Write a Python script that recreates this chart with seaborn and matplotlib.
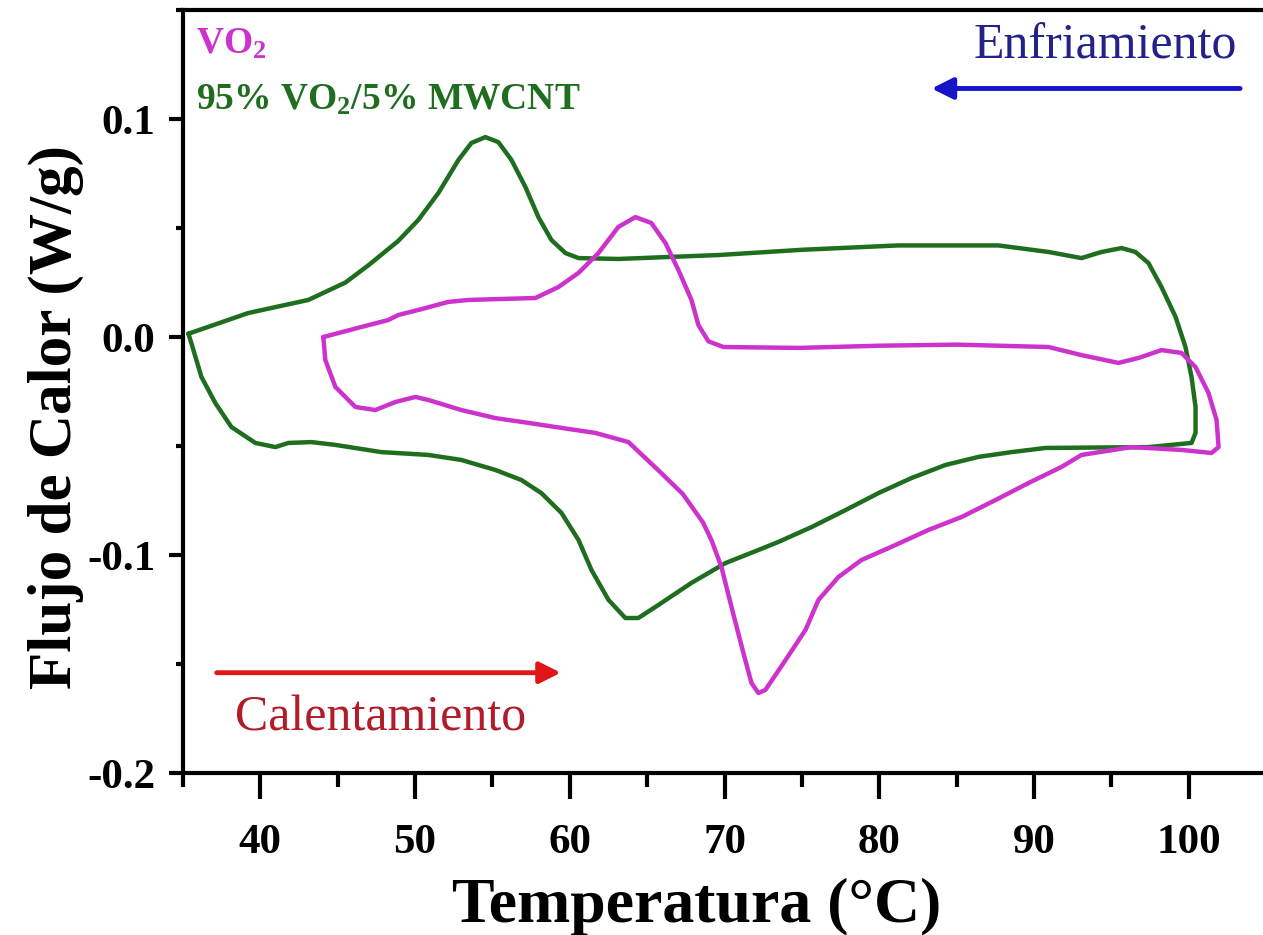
import numpy as np
import pandas as pd
import matplotlib
matplotlib.use("Agg")
import matplotlib.pyplot as plt
import seaborn as sns
from matplotlib.ticker import MultipleLocator

# ---- data ----
vo2_T = [44.07, 46.53, 48.27, 48.92, 50.21, 52.15, 53.45, 57.78, 59.26, 60.56, 61.85, 63.14,
         64.24, 65.27, 66.18, 67.02, 67.86, 68.31, 68.96, 69.93, 74.8, 80.0, 85.0, 90.94,
         93.07, 95.46, 96.76, 98.24, 99.53, 100.44, 101.28, 101.80, 101.93, 101.47, 99.53,
         96.30, 93.07, 91.78, 89.64, 87.51, 85.31, 83.18, 81.05, 78.85, 77.36, 76.07, 75.23,
         73.94, 72.64, 72.19, 71.74, 71.22, 70.45, 69.80, 69.15, 68.6, 67.3, 65.7, 63.79,
         61.65, 59.46, 57.32, 55.19, 52.99, 50.86, 50.02, 48.73, 47.43, 46.14, 44.85, 44.20,
         44.07]
vo2_Q = [0.000, 0.0046, 0.0078, 0.0101, 0.0124, 0.0161, 0.0170, 0.0179, 0.0229, 0.0294, 0.0385,
         0.0505, 0.0550, 0.0523, 0.0431, 0.0307, 0.0170, 0.0055, -0.0020, -0.0046, -0.0050,
         -0.0040, -0.0035, -0.0046, -0.0083, -0.0119, -0.0096, -0.0060, -0.0073, -0.0138,
         -0.0257, -0.0381, -0.0505, -0.0532, -0.0518, -0.0505, -0.0541, -0.0596, -0.0670,
         -0.0748, -0.0826, -0.0885, -0.0954, -0.1023, -0.1101, -0.1206, -0.1344, -0.1482,
         -0.1619, -0.1633, -0.1587, -0.1450, -0.1239, -0.1055, -0.0931, -0.0850, -0.0720,
         -0.0610, -0.0482, -0.0440, -0.0417, -0.0394, -0.0372, -0.0335, -0.0289, -0.0275,
         -0.0298, -0.0335, -0.0321, -0.0229, -0.0106, 0.000]

cnt_T = [35.35, 39.22, 43.10, 45.5, 47.0, 48.9, 50.21, 51.51, 52.80, 53.64, 54.54, 55.38, 56.23,
         57.13, 57.97, 58.81, 59.72, 60.56, 63.14, 69.61, 75.0, 81.2, 87.7, 90.94, 93.07,
         94.36, 95.66, 96.56, 97.40, 98.24, 99.15, 99.79, 100.18, 100.44, 100.44, 100.18,
         97.40, 90.74, 88.55, 86.41, 84.28, 82.08, 79.95, 77.82, 75.62, 73.48, 72.19, 70.06,
         67.86, 65.73, 64.43, 63.59, 62.50, 61.40, 60.56, 59.46, 58.16, 56.87, 55.19, 52.99,
         50.86, 47.82, 44.85, 43.30, 41.81, 40.97, 39.68, 38.13, 37.09, 36.19, 35.54, 35.35]
cnt_Q = [0.0015, 0.0110, 0.0170, 0.0250, 0.0330, 0.0440, 0.0537, 0.0661, 0.0812, 0.0890,
         0.0917, 0.0894, 0.0812, 0.0688, 0.0550, 0.0445, 0.0385, 0.0362, 0.0358, 0.0376,
         0.0400, 0.0420, 0.0420, 0.0390, 0.0362, 0.0390, 0.0408, 0.0390, 0.0339, 0.0229,
         0.0092, -0.0046, -0.0183, -0.0321, -0.0440, -0.0486, -0.0505, -0.0509, -0.0528,
         -0.0550, -0.0587, -0.0647, -0.0716, -0.0794, -0.0872, -0.0940, -0.0977, -0.1037,
         -0.1128, -0.1229, -0.1289, -0.1289, -0.1206, -0.1069, -0.0931, -0.0807, -0.0716,
         -0.0656, -0.0610, -0.0564, -0.0541, -0.0528, -0.0495, -0.0482, -0.0486, -0.0505,
         -0.0486, -0.0413, -0.0303, -0.0183, -0.0028, 0.0015]

series_names = ["VO$_2$", "95% VO$_2$/5% MWCNT"]
series_colors = ["#CC33CC", "#1F6E1F"]
x_ticks = [40, 50, 60, 70, 80, 90, 100]
y_ticks = [-0.2, -0.1, 0.0, 0.1]
y_tick_labels = ["-0.2", "-0.1", "0.0", "0.1"]

sns.set_style("ticks")
plt.rcParams["font.family"] = ["Liberation Serif", "DejaVu Serif"]
plt.rcParams["mathtext.fontset"] = "custom"
plt.rcParams["mathtext.rm"] = "Liberation Serif:bold"
plt.rcParams["mathtext.it"] = "Liberation Serif:bold"
plt.rcParams["mathtext.bf"] = "Liberation Serif:bold"
for k in ["text.color", "axes.labelcolor", "xtick.color", "ytick.color"]:
    plt.rcParams[k] = "black"

fig = plt.figure(figsize=(12.63, 9.35), dpi=100)
ax = fig.add_axes([183 / 1263, 162 / 935, 1 - 183 / 1263, 763 / 935])

df_vo2 = pd.DataFrame({"T": vo2_T, "Q": vo2_Q})
df_cnt = pd.DataFrame({"T": cnt_T, "Q": cnt_Q})
sns.lineplot(data=df_cnt, x="T", y="Q", sort=False, estimator=None, color=series_colors[1],
             lw=3.2, ax=ax, solid_joinstyle="round", solid_capstyle="round")
sns.lineplot(data=df_vo2, x="T", y="Q", sort=False, estimator=None, color=series_colors[0],
             lw=3.2, ax=ax, solid_joinstyle="round", solid_capstyle="round")

ax.set_xlim(35, 104.8)
ax.set_ylim(-0.2, 0.15)
ax.set_xticks(x_ticks)
ax.set_yticks(y_ticks)
ax.set_yticklabels(y_tick_labels)
ax.xaxis.set_minor_locator(MultipleLocator(5))
ax.yaxis.set_minor_locator(MultipleLocator(0.05))

for s in ["left", "bottom", "top"]:
    ax.spines[s].set_linewidth(3)
    ax.spines[s].set_color("black")
ax.spines["right"].set_visible(False)

ax.tick_params(axis="x", which="major", length=19, width=3, pad=18, labelsize=31, direction="out")
ax.tick_params(axis="x", which="minor", length=10, width=3, direction="out")
ax.tick_params(axis="y", which="major", length=10, width=3, pad=10, labelsize=31, direction="out")
ax.tick_params(axis="y", which="minor", length=5, width=3, direction="out")
ax.tick_params(top=False, right=False, which="both")
for lab in ax.get_xticklabels() + ax.get_yticklabels():
    lab.set_fontweight("bold")

ax.set_xlabel("Temperatura (°C)", fontsize=46, fontweight="bold")
ax.xaxis.set_label_coords(0.476, -0.137)
ax.set_ylabel("Flujo de Calor (W/g)", fontsize=44, fontweight="bold")
ax.yaxis.set_label_coords(-0.092, 0.466)

ax.text(0.012, 0.955, series_names[0], transform=ax.transAxes, color=series_colors[0],
        fontsize=27, fontweight="bold", va="center", ha="left")
ax.text(0.012, 0.882, series_names[1], transform=ax.transAxes, color=series_colors[1],
        fontsize=27, fontweight="bold", va="center", ha="left")

ax.annotate("", xy=(83.2, 0.114), xytext=(103.5, 0.114),
            arrowprops=dict(arrowstyle="-|>", color="#1414C8", lw=3.5, mutation_scale=32))
ax.text(94.6, 0.1335, "Enfriamiento", color="#22228A", fontsize=36, ha="center", va="center")

ax.annotate("", xy=(59.6, -0.154), xytext=(37.0, -0.154),
            arrowprops=dict(arrowstyle="-|>", color="#E01515", lw=3.5, mutation_scale=32))
ax.text(47.8, -0.175, "Calentamiento", color="#B01C28", fontsize=36, ha="center", va="center")

fig.savefig("out.png", dpi=100)
